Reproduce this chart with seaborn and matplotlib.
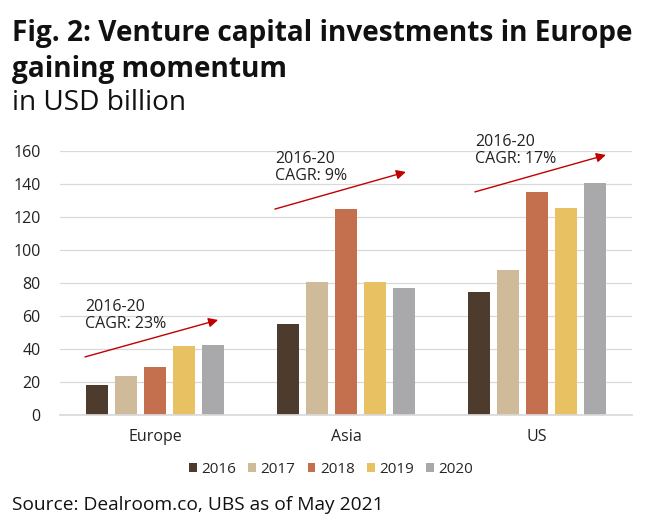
import matplotlib
matplotlib.use("Agg")
import matplotlib.pyplot as plt
import seaborn as sns
import pandas as pd

regions = ["Europe", "Asia", "US"]
years = ["2016", "2017", "2018", "2019", "2020"]
values = {
    "2016": [18.2, 55.2, 74.7],
    "2017": [23.8, 80.4, 87.9],
    "2018": [29.3, 124.7, 135.0],
    "2019": [41.6, 80.4, 125.3],
    "2020": [42.4, 76.8, 140.4],
}
colors = ["#4d3b2e", "#cfbb99", "#c4704f", "#e8c162", "#a9a9ab"]
cagr_labels = ["2016-20\nCAGR: 23%", "2016-20\nCAGR: 9%", "2016-20\nCAGR: 17%"]
arrow_start = [(-0.369, 35.2), (0.627, 124.8), (1.676, 135.2)]
arrow_end = [(0.329, 57.6), (1.314, 147.3), (2.363, 157.6)]

rows = []
for y in years:
    for r, v in zip(regions, values[y]):
        rows.append({"region": r, "year": y, "value": v})
df = pd.DataFrame(rows)

sns.set_theme(style="white")
plt.rcParams["font.family"] = ["Open Sans", "DejaVu Sans"]

fig = plt.figure(figsize=(6.5, 5.32), dpi=100)
ax = fig.add_axes([60 / 650, 117 / 532, 572 / 650, 264 / 532])

sns.barplot(data=df, x="region", y="value", hue="year", order=regions,
            hue_order=years, palette=colors, width=0.76, gap=0.24,
            saturation=1, ax=ax, legend=True, linewidth=0)

ax.set_xlim(-0.5, 2.5)
ax.set_ylim(0, 160)
ax.set_yticks(range(0, 161, 20))
ax.yaxis.grid(True, color="#d9d9d9", linewidth=0.9)
ax.set_axisbelow(True)
for s in ["top", "right", "left"]:
    ax.spines[s].set_visible(False)
ax.spines["bottom"].set_color("#d9d9d9")
ax.set_xlabel("")
ax.set_ylabel("")
ax.tick_params(axis="both", length=0, labelsize=11.5, colors="#222222")
ax.tick_params(axis="x", pad=10)
ax.tick_params(axis="y", pad=14)

for lab, s, e in zip(cagr_labels, arrow_start, arrow_end):
    ax.annotate("", xy=e, xytext=s,
                arrowprops=dict(arrowstyle="-|>", color="#c00000", lw=1.0,
                                mutation_scale=14, shrinkA=0, shrinkB=0),
                annotation_clip=False)
    ax.text(s[0], s[1] + 15, lab, fontsize=11.5, color="#222222",
            ha="left", va="bottom", linespacing=1.1, clip_on=False)

handles, labels = ax.get_legend_handles_labels()
ax.legend(handles, labels, loc="upper center", bbox_to_anchor=(0.474, -0.125),
          ncol=5, frameon=False, fontsize=11, handlelength=0.5,
          handleheight=0.5, handletextpad=0.3, columnspacing=0.8)

fig.text(12 / 650, 1 - 33 / 532, "Fig. 2: Venture capital investments in Europe",
         fontsize=20.2, fontweight="bold", color="#111111", va="center")
fig.text(12 / 650, 1 - 69 / 532, "gaining momentum",
         fontsize=20.2, fontweight="bold", color="#111111", va="center")
fig.text(12 / 650, 1 - 103 / 532, "in USD billion",
         fontsize=20.2, color="#111111", va="center")
fig.text(12 / 650, 1 - 505 / 532, "Source: Dealroom.co, UBS as of May 2021",
         fontsize=13.8, color="#111111", va="center")

fig.savefig("out.png", dpi=100)
